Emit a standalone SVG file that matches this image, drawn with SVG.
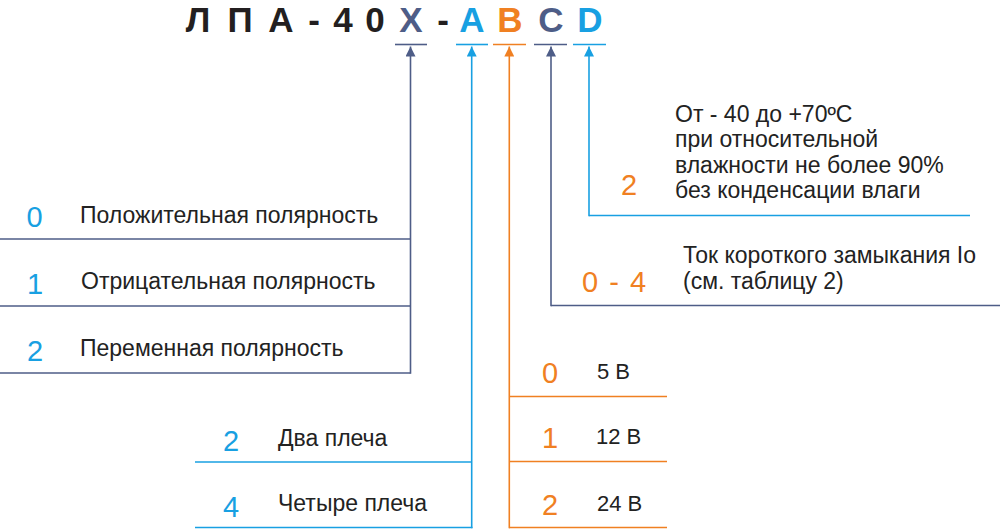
<svg xmlns="http://www.w3.org/2000/svg" width="1000" height="529" viewBox="0 0 1000 529">
<style>
.t{font-family:"Liberation Sans",Arial,sans-serif;font-weight:bold;font-size:35px;text-anchor:middle}
.lbl{font-family:"Liberation Sans",Arial,sans-serif;font-size:23px;fill:#222}
.v{font-family:"Liberation Sans",Arial,sans-serif;font-size:22px;fill:#222}
.d{font-family:"Liberation Sans",Arial,sans-serif;font-size:29px;text-anchor:middle}
.blk{fill:#231f20}.sl{fill:#4e5d87}.bl{fill:#18a0e2}.or{fill:#f08022}
.ls{stroke:#4e5d87}.lb{stroke:#18a0e2}.lo{stroke:#f08022}
line{fill:none;stroke-width:1.6}
</style>
<defs>
<marker id="aS" viewBox="0 0 10 10" refX="10" refY="5" markerWidth="10" markerHeight="10" markerUnits="userSpaceOnUse" orient="auto"><path d="M0,0 L10,5 L0,10 Z" fill="#4e5d87"/></marker>
<marker id="aB" viewBox="0 0 10 10" refX="10" refY="5" markerWidth="10" markerHeight="10" markerUnits="userSpaceOnUse" orient="auto"><path d="M0,0 L10,5 L0,10 Z" fill="#18a0e2"/></marker>
<marker id="aO" viewBox="0 0 10 10" refX="10" refY="5" markerWidth="10" markerHeight="10" markerUnits="userSpaceOnUse" orient="auto"><path d="M0,0 L10,5 L0,10 Z" fill="#f08022"/></marker>
</defs>
<rect width="1000" height="529" fill="#fff"/>
<g id="title">
<text class="t blk" x="198" y="31.8">Л</text>
<text class="t blk" x="240" y="31.8">П</text>
<text class="t blk" x="281" y="31.8">А</text>
<text class="t blk" x="314" y="31.8">-</text>
<text class="t blk" x="343" y="31.8">4</text>
<text class="t blk" x="375" y="31.8">0</text>
<text class="t sl" x="411" y="31.8">X</text>
<text class="t blk" x="443" y="31.8">-</text>
<text class="t bl" x="472" y="31.8">A</text>
<text class="t or" x="510" y="31.8">B</text>
<text class="t sl" x="551" y="31.8">C</text>
<text class="t bl" x="590" y="31.8">D</text>
<line class="ls" x1="395" y1="44.5" x2="427" y2="44.5"/>
<line class="lb" x1="456" y1="44.5" x2="488" y2="44.5"/>
<line class="lo" x1="493" y1="44.5" x2="526" y2="44.5"/>
<line class="ls" x1="534" y1="44.5" x2="567" y2="44.5"/>
<line class="lb" x1="573" y1="44.5" x2="606" y2="44.5"/>
</g>
<g id="connectors">
<line class="ls" x1="0" y1="373" x2="410.5" y2="373"/>
<line class="ls" x1="0" y1="239" x2="410" y2="239"/>
<line class="ls" x1="0" y1="306" x2="410" y2="306"/>
<line class="ls" x1="410.5" y1="373.8" x2="410.5" y2="46.5" marker-end="url(#aS)"/>
<line class="lb" x1="195" y1="462" x2="472" y2="462"/>
<line class="lb" x1="195" y1="527.5" x2="472.5" y2="527.5"/>
<line class="lb" x1="471.7" y1="528.3" x2="471.7" y2="46.5" marker-end="url(#aB)"/>
<line class="lo" x1="509" y1="396.5" x2="667" y2="396.5"/>
<line class="lo" x1="509" y1="461.5" x2="667" y2="461.5"/>
<line class="lo" x1="509" y1="527.5" x2="667" y2="527.5"/>
<line class="lo" x1="509.3" y1="528.3" x2="509.3" y2="46.5" marker-end="url(#aO)"/>
<line class="ls" x1="551" y1="305.5" x2="1000" y2="305.5"/>
<line class="ls" x1="551" y1="306.3" x2="551" y2="46.5" marker-end="url(#aS)"/>
<line class="lb" x1="589" y1="215.5" x2="970" y2="215.5"/>
<line class="lb" x1="589" y1="216.3" x2="589" y2="46.5" marker-end="url(#aB)"/>
</g>
<g id="polarity0"><text class="d bl" x="34.5" y="227">0</text><text class="lbl" x="80" y="223">Положительная полярность</text></g>
<g id="polarity1"><text class="d bl" x="35" y="294">1</text><text class="lbl" x="81" y="289">Отрицательная полярность</text></g>
<g id="polarity2"><text class="d bl" x="35" y="361">2</text><text class="lbl" x="80" y="356">Переменная полярность</text></g>
<g id="arms2"><text class="d bl" x="231" y="451">2</text><text class="lbl" x="278" y="446">Два плеча</text></g>
<g id="arms4"><text class="d bl" x="231" y="517">4</text><text class="lbl" x="278" y="511">Четыре плеча</text></g>
<g id="volt0"><text class="d or" x="550" y="383">0</text><text class="v" x="597" y="379">5 В</text></g>
<g id="volt1"><text class="d or" x="550" y="448">1</text><text class="v" x="596" y="444">12 В</text></g>
<g id="volt2"><text class="d or" x="550" y="515">2</text><text class="v" x="597" y="511">24 В</text></g>
<g id="current"><text class="d or" x="614" y="292" word-spacing="3" xml:space="preserve">0 - 4</text>
<text class="lbl" x="683" y="263">Ток короткого замыкания Io</text>
<text class="lbl" x="683" y="289">(см. таблицу 2)</text></g>
<g id="climate"><text class="d or" x="629" y="195">2</text>
<text class="lbl" x="675" y="122">От - 40 до +70ºC</text>
<text class="lbl" x="675" y="147">при относительной</text>
<text class="lbl" x="675" y="172.5">влажности не более 90%</text>
<text class="lbl" x="675" y="198">без конденсации влаги</text></g>
</svg>
